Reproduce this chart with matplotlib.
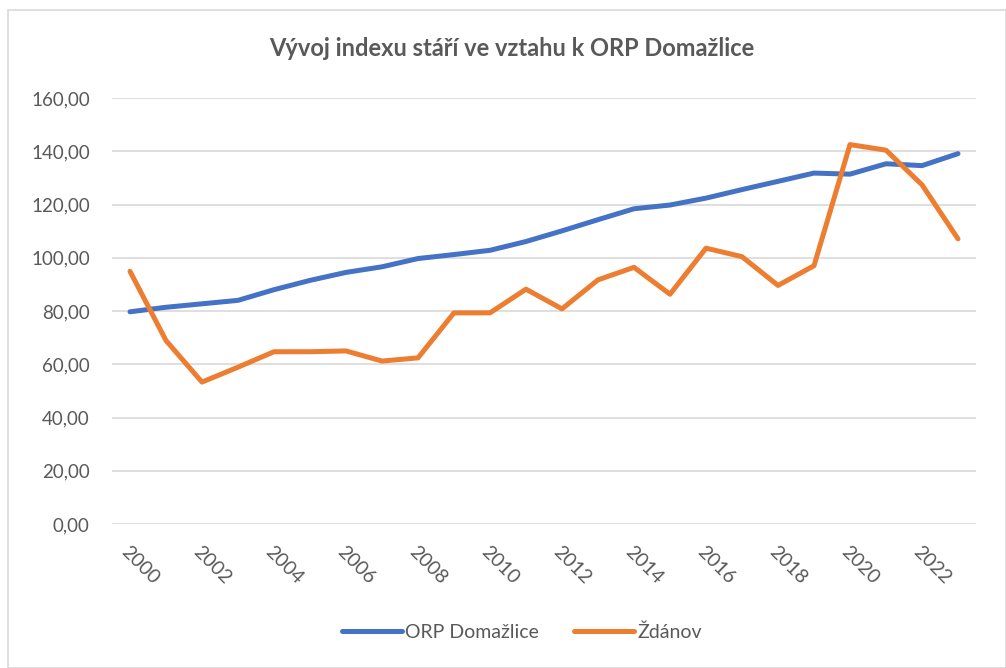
import matplotlib
matplotlib.use("Agg")
import matplotlib.pyplot as plt
from matplotlib.patches import Rectangle
from matplotlib.ticker import FuncFormatter, FixedLocator

years = list(range(2000, 2024))
orp_domazlice = [79.7, 81.4, 82.7, 84.0, 88.0, 91.5, 94.5, 96.6, 99.7, 101.2, 102.8, 106.1,
                 110.1, 114.3, 118.4, 119.8, 122.4, 125.6, 128.7, 131.8, 131.4, 135.3, 134.6, 139.1]
zdanov = [94.9, 68.9, 53.3, 58.9, 64.7, 64.7, 65.0, 61.2, 62.4, 79.3, 79.3, 88.2,
          80.8, 91.7, 96.4, 86.3, 103.6, 100.4, 89.6, 97.0, 142.5, 140.4, 127.4, 107.1]
series_names = ["ORP Domažlice", "Ždánov"]
title = "Vývoj indexu stáří ve vztahu k ORP Domažlice"
y_ticks = [0, 20, 40, 60, 80, 100, 120, 140, 160]

plt.rcParams['font.family'] = ['Lato', 'DejaVu Sans']
W, H = 1006, 668
fig = plt.figure(figsize=(W / 100, H / 100), dpi=100)
fig.patches.append(Rectangle((8 / W, 0), (W - 8) / W, (H - 10) / H, transform=fig.transFigure,
                             fill=False, edgecolor='#D9D9D9', linewidth=1.2))

ax = fig.add_axes([112 / W, 1 - 524 / H, 864 / W, 426 / H])
x = list(range(len(years)))
ax.plot(x, orp_domazlice, color='#4472C4', lw=3.6, solid_capstyle='round', label=series_names[0])
ax.plot(x, zdanov, color='#ED7D31', lw=3.6, solid_capstyle='round', label=series_names[1])

ax.set_xlim(-0.5, len(years) - 0.5)
ax.set_ylim(0, 160)
ax.yaxis.set_major_locator(FixedLocator(y_ticks))
ax.yaxis.set_major_formatter(FuncFormatter(lambda v, p: f"{v:.2f}".replace('.', ',')))
ax.set_xticks(x[::2])
ax.set_xticklabels([str(y) for y in years[::2]], rotation=-45, ha='left', va='top',
                   rotation_mode='anchor')
ax.tick_params(axis='x', length=0, pad=14, labelsize=14, colors='#595959')
ax.tick_params(axis='y', length=0, pad=16, labelsize=13.5, colors='#595959')
ax.grid(axis='y', color='#D9D9D9', lw=1.2)
ax.set_axisbelow(True)
for s in ax.spines.values():
    s.set_visible(False)

fig.text(512 / W, 1 - 48 / H, title, ha='center', va='center', fontsize=17,
         fontweight='bold', color='#595959')

leg = fig.legend(loc='center', bbox_to_anchor=(522 / W, 1 - 632 / H), ncol=2, frameon=False,
                 fontsize=14, handlelength=3.1, handletextpad=0.15, columnspacing=1.8)
for t in leg.get_texts():
    t.set_color('#595959')

fig.savefig('out.png', dpi=100)
